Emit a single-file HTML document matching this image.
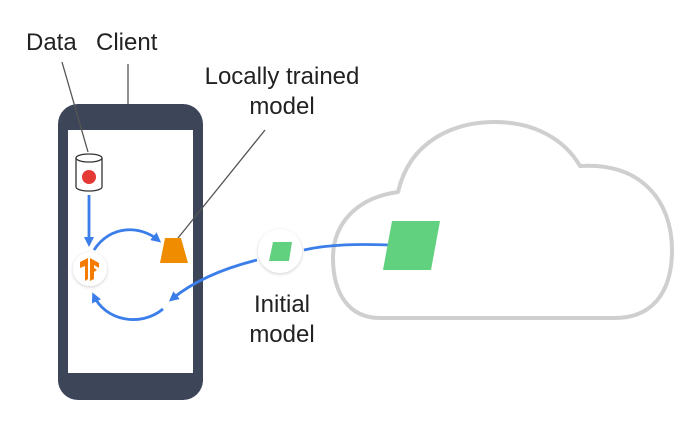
<!DOCTYPE html>
<html><head><style>
body{margin:0;width:694px;height:429px;background:#fff;overflow:hidden}
text{font-family:"Liberation Sans",sans-serif;font-size:24px;fill:#222}
</style></head><body>
<svg width="694" height="429" viewBox="0 0 694 429">
<defs>
<marker id="ah" markerWidth="10" markerHeight="10" refX="6" refY="5" orient="auto" markerUnits="userSpaceOnUse"><path d="M0,0 L10,5 L0,10 Z" fill="#3b7de9"/></marker>
<filter id="sh" x="-30%" y="-30%" width="160%" height="160%"><feDropShadow dx="0" dy="1" stdDeviation="1.5" flood-color="#000" flood-opacity="0.2"/></filter>
</defs>
<!-- cloud -->
<path d="M380,318 L615,318 C650,318 672,295 672,250 C672,200 640,162 580,166 C565,140 535,122 495,122 C455,122 410,140 398,192 C355,198 333,225 333,258 C333,295 350,318 380,318 Z" fill="#fff" stroke="#cfcfcf" stroke-width="4" stroke-linejoin="round"/>
<!-- phone -->
<rect x="58" y="104" width="145" height="296" rx="20" fill="#3c4658"/>
<rect x="68" y="130" width="125" height="243" fill="#fff"/>
<!-- pointer lines -->
<line x1="62" y1="62" x2="88" y2="152" stroke="#555" stroke-width="1.3"/>
<line x1="128" y1="64" x2="128" y2="104" stroke="#555" stroke-width="1.3"/>
<line x1="265" y1="130" x2="178" y2="238" stroke="#555" stroke-width="1.3"/>
<!-- labels -->
<text x="26" y="50">Data</text>
<text x="96" y="50">Client</text>
<text x="282" y="84" text-anchor="middle">Locally trained</text>
<text x="282" y="114" text-anchor="middle">model</text>
<text x="282" y="312" text-anchor="middle">Initial</text>
<text x="282" y="342" text-anchor="middle">model</text>
<!-- cylinder -->
<path d="M76,158 L76,187 A13,4 0 0 0 102,187 L102,158" fill="#fff" stroke="#333" stroke-width="1.3"/>
<ellipse cx="89" cy="158" rx="13" ry="4" fill="#fff" stroke="#333" stroke-width="1.3"/>
<circle cx="89" cy="177" r="7" fill="#e53935"/>
<!-- arrows -->
<g fill="none" stroke="#3b7de9" stroke-width="2.8">
<path d="M89,195 L89,243" marker-end="url(#ah)"/>
<path d="M94,250 C110,225 140,225 158,240" marker-end="url(#ah)"/>
<path d="M163,309 C140,328 105,320 94,296" marker-end="url(#ah)"/>
<path d="M257,260 C225,268 195,280 172,299" marker-end="url(#ah)"/>
<path d="M304,250 C330,244 360,244 390,245"/>
</g>
<!-- TF node -->
<circle cx="90" cy="269" r="17" fill="#fff" filter="url(#sh)"/>
<path d="M80,262 L88,258 L88,279 L85,281 L85,266 L80,268 Z M90,258 L99,263 L99,268 L94,265 L94,268 L97,270 L94,272 L94,279 L90,281 Z" fill="#f57c00"/>
<!-- trapezoid -->
<polygon points="165,238 181,238 188,263 160,263" fill="#f08c00"/>
<!-- initial model node -->
<circle cx="280" cy="251" r="22" fill="#fff" filter="url(#sh)"/>
<polygon points="273,242 292,242 289,261 269,261" fill="#62d17f"/>
<!-- big parallelogram -->
<polygon points="392,221 440,221 431,270 383,270" fill="#62d17f"/>
</svg>
</body></html>
